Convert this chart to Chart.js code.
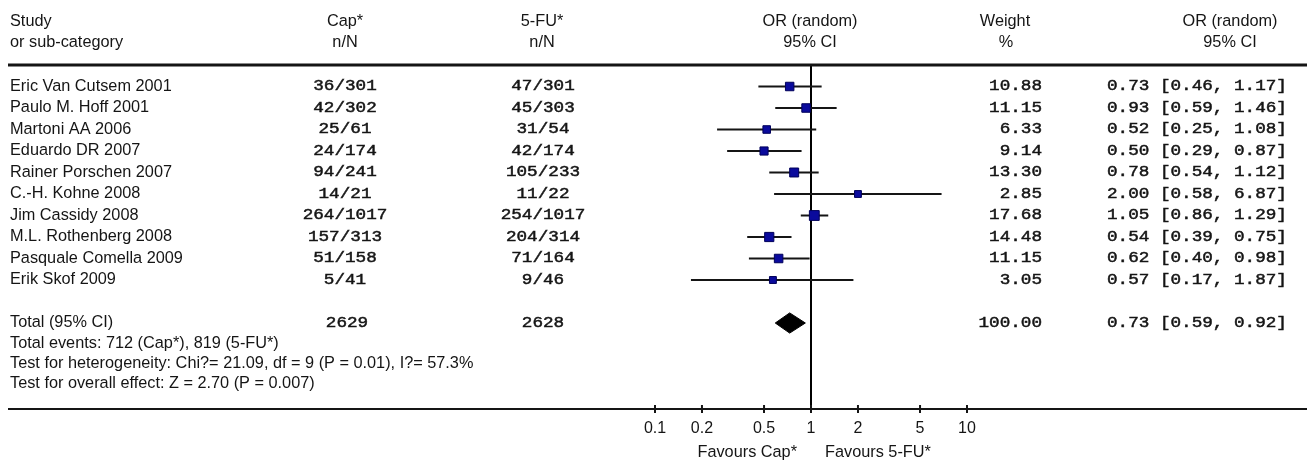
<!DOCTYPE html>
<html>
<head>
<meta charset="utf-8">
<script src="https://cdn.jsdelivr.net/npm/chart.js@4"></script>
<style>
html, body { margin: 0; padding: 0; background: #fff; }
#wrap { width: 1307px; height: 463px; position: relative; }
</style>
</head>
<body>
<div id="wrap"><canvas id="forest"></canvas></div>
<script>
const studies = ['Eric Van Cutsem 2001', 'Paulo M. Hoff 2001', 'Martoni AA 2006', 'Eduardo DR 2007',
  'Rainer Porschen 2007', 'C.-H. Kohne 2008', 'Jim Cassidy 2008', 'M.L. Rothenberg 2008',
  'Pasquale Comella 2009', 'Erik Skof 2009'];
const capEvents = ['36/301', '42/302', '25/61', '24/174', '94/241', '14/21', '264/1017', '157/313', '51/158', '5/41'];
const fuEvents = ['47/301', '45/303', '31/54', '42/174', '105/233', '11/22', '254/1017', '204/314', '71/164', '9/46'];
const weights = [10.88, 11.15, 6.33, 9.14, 13.30, 2.85, 17.68, 14.48, 11.15, 3.05];
const oddsRatio = [0.73, 0.93, 0.52, 0.50, 0.78, 2.00, 1.05, 0.54, 0.62, 0.57];
const ciLow = [0.46, 0.59, 0.25, 0.29, 0.54, 0.58, 0.86, 0.39, 0.40, 0.17];
const ciHigh = [1.17, 1.46, 1.08, 0.87, 1.12, 6.87, 1.29, 0.75, 0.98, 1.87];

const totalCap = '2629';
const totalFu = '2628';
const totalWeight = 100.00;
const totalOR = 0.73;
const totalLow = 0.59;
const totalHigh = 0.92;

const tickValues = [0.1, 0.2, 0.5, 1, 2, 5, 10];
const footerLines = [
  'Total events: 712 (Cap*), 819 (5-FU*)',
  'Test for heterogeneity: Chi?= 21.09, df = 9 (P = 0.01), I?= 57.3%',
  'Test for overall effect: Z = 2.70 (P = 0.007)'
];

const totalRow = 11;
const inkColor = '#151515';
const boxColor = '#0a0a9c';
const sansFamily = '"Liberation Sans", Arial, sans-serif';
const sansFont = '16.3px ' + sansFamily;
const monoFont = '14px "Liberation Mono", monospace';

const fmtOR = (o, l, h) => o.toFixed(2) + ' [' + l.toFixed(2) + ', ' + h.toFixed(2) + ']';

// one line per confidence interval
const ciSets = studies.map((s, i) => ({
  type: 'scatter',
  showLine: true,
  data: [{ x: ciLow[i], y: i }, { x: ciHigh[i], y: i }],
  borderColor: inkColor,
  borderWidth: 2,
  pointRadius: 0,
  order: 2
}));

const boxes = {
  type: 'scatter',
  data: studies.map((s, i) => ({ x: oddsRatio[i], y: i })),
  pointStyle: 'rect',
  pointRadius: weights.map(w => (6.3 + w * 0.2) / Math.SQRT2),
  backgroundColor: boxColor,
  borderColor: '#00005a',
  borderWidth: 1,
  order: 0
};

const diamond = {
  type: 'scatter',
  showLine: true,
  data: [
    { x: totalLow, y: totalRow }, { x: totalOR, y: totalRow - 0.47 },
    { x: totalHigh, y: totalRow }, { x: totalOR, y: totalRow + 0.47 },
    { x: totalLow, y: totalRow }
  ],
  borderColor: '#000',
  borderWidth: 1,
  backgroundColor: '#000',
  fill: 'shape',
  tension: 0,
  pointRadius: 0,
  order: 1
};

const noEffect = {
  type: 'scatter',
  showLine: true,
  data: [{ x: 1, y: -1 }, { x: 1, y: 15 }],
  borderColor: '#000',
  borderWidth: 2,
  pointRadius: 0,
  order: 3
};

function monoText(ctx, text, x, y, align) {
  ctx.save();
  ctx.translate(x, y);
  ctx.scale(1.26, 1);
  ctx.textAlign = align;
  ctx.lineWidth = 0.45;
  ctx.fillText(text, 0, 0);
  ctx.strokeText(text, 0, 0);
  ctx.restore();
}

const tablePlugin = {
  id: 'table',
  afterDraw(chart) {
    const ctx = chart.ctx;
    const ys = chart.scales.y;
    const xs = chart.scales.x;
    const area = chart.chartArea;
    const W = chart.width;
    ctx.save();
    ctx.fillStyle = inkColor;
    ctx.strokeStyle = inkColor;
    ctx.textBaseline = 'middle';

    // header
    ctx.font = sansFont;
    ctx.textAlign = 'left';
    ctx.fillText('Study', 10, 22);
    ctx.fillText('or sub-category', 10, 43);
    ctx.textAlign = 'center';
    ctx.fillText('Cap*', 345, 22);
    ctx.fillText('n/N', 345, 43);
    ctx.fillText('5-FU*', 542, 22);
    ctx.fillText('n/N', 542, 43);
    ctx.fillText('OR (random)', 810, 22);
    ctx.fillText('95% CI', 810, 43);
    ctx.fillText('Weight', 1005, 22);
    ctx.fillText('%', 1006, 43);
    ctx.fillText('OR (random)', 1230, 22);
    ctx.fillText('95% CI', 1230, 43);

    // rules
    ctx.lineWidth = 3;
    ctx.beginPath();
    ctx.moveTo(8, area.top);
    ctx.lineTo(W, area.top);
    ctx.stroke();
    ctx.lineWidth = 2;
    ctx.beginPath();
    ctx.moveTo(8, area.bottom);
    ctx.lineTo(W, area.bottom);
    ctx.stroke();
    // tick marks poke above the axis too
    tickValues.forEach(v => {
      const x = xs.getPixelForValue(v);
      ctx.beginPath();
      ctx.moveTo(x, area.bottom - 4);
      ctx.lineTo(x, area.bottom);
      ctx.stroke();
    });

    // study rows
    studies.forEach((s, i) => {
      const y = ys.getPixelForValue(i);
      ctx.font = sansFont;
      ctx.textAlign = 'left';
      ctx.fillText(s, 10, y);
      ctx.font = monoFont;
      monoText(ctx, capEvents[i], 345, y, 'center');
      monoText(ctx, fuEvents[i], 543, y, 'center');
      monoText(ctx, weights[i].toFixed(2), 1042, y, 'right');
      monoText(ctx, fmtOR(oddsRatio[i], ciLow[i], ciHigh[i]), 1107, y, 'left');
    });

    // total row
    const ty = ys.getPixelForValue(totalRow);
    ctx.font = sansFont;
    ctx.textAlign = 'left';
    ctx.fillText('Total (95% CI)', 10, ty);
    ctx.font = monoFont;
    monoText(ctx, totalCap, 347, ty, 'center');
    monoText(ctx, totalFu, 543, ty, 'center');
    monoText(ctx, totalWeight.toFixed(2), 1042, ty, 'right');
    monoText(ctx, fmtOR(totalOR, totalLow, totalHigh), 1107, ty, 'left');

    ctx.font = sansFont;
    ctx.textAlign = 'left';
    footerLines.forEach((t, k) => {
      ctx.fillText(t, 10, ys.getPixelForValue(totalRow + 0.94 * (k + 1)));
    });

    // favours labels
    ctx.textAlign = 'right';
    ctx.fillText('Favours Cap*', 797, 453);
    ctx.textAlign = 'left';
    ctx.fillText('Favours 5-FU*', 825, 453);
    ctx.restore();
  }
};

new Chart(document.getElementById('forest'), {
  type: 'scatter',
  data: { datasets: [...ciSets, boxes, diamond, noEffect] },
  options: {
    responsive: true,
    maintainAspectRatio: false,
    animation: false,
    events: [],
    layout: { padding: { top: 65, left: 655, right: 340, bottom: 0 } },
    plugins: { legend: { display: false }, tooltip: { enabled: false } },
    scales: {
      x: {
        type: 'logarithmic',
        min: 0.1,
        max: 10,
        afterBuildTicks: scale => { scale.ticks = tickValues.map(v => ({ value: v })); },
        afterFit: scale => { scale.height = 54; },
        ticks: {
          autoSkip: false,
          maxRotation: 0,
          padding: 6,
          color: inkColor,
          font: { family: sansFamily, size: 16 },
          callback: v => String(v)
        },
        grid: { drawOnChartArea: false, drawTicks: true, tickLength: 4, color: inkColor, lineWidth: 2 },
        border: { display: true, color: inkColor, width: 2 }
      },
      y: {
        type: 'linear',
        display: false,
        reverse: true,
        min: -1,
        max: 15
      }
    }
  },
  plugins: [tablePlugin]
});
</script>
</body>
</html>
